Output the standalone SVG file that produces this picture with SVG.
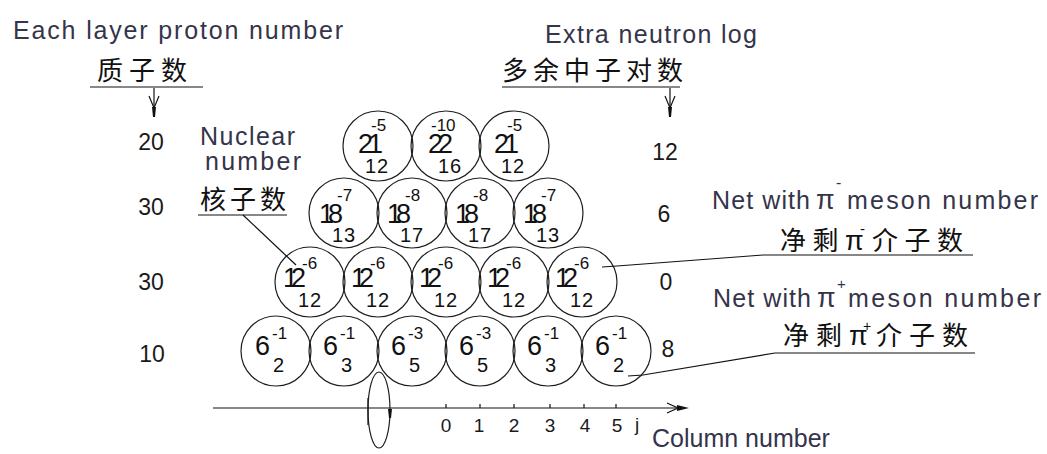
<svg xmlns="http://www.w3.org/2000/svg" xmlns:xlink="http://www.w3.org/1999/xlink" width="1047" height="454" viewBox="0 0 1047 454">
<style>
.bg{fill:#ffffff}
.c{fill:none;stroke:#1e1e1e;stroke-width:1.2}
.t{font-family:"Liberation Sans",Arial,sans-serif;fill:#111}
.m{font-size:27px}
.p{font-size:17px}
.b{font-size:20px}
.n{font-family:"Liberation Sans",Arial,sans-serif;font-size:23px;fill:#1a1a1a;text-anchor:middle}
.ax{font-family:"Liberation Sans",Arial,sans-serif;font-size:19px;fill:#1a1a1a;text-anchor:middle}
.en{font-family:"Liberation Sans",Arial,sans-serif;font-size:25px;fill:#34344a}
.cj{font-family:"Noto Sans CJK SC","Noto Sans CJK JP",sans-serif;font-size:26px;fill:#111}
.gr{font-family:"Liberation Sans",Arial,sans-serif}
.ln{fill:none;stroke:#111;stroke-width:1.2}
.fl{fill:#111;stroke:none}
</style>
<defs>
<g id="darr">
<line x1="0" y1="0" x2="0" y2="28" class="ln"/>
<polyline points="-5,8 0,20 5,8" class="ln"/>
<polygon points="-2,19 2,19 1,29 -1,29" class="fl"/>
</g>
</defs>
<rect x="0" y="0" width="1047" height="454" class="bg"/>

<g id="header-left">
<text class="en" x="13" y="39" textLength="330">Each layer proton number</text>
<text class="cj" x="97" y="80" font-size="27" letter-spacing="6">质子数</text>
</g>
<g id="header-right">
<text class="en" x="545" y="43" textLength="212">Extra neutron log</text>
<text class="cj" x="502" y="80" font-size="27" letter-spacing="5">多余中子对数</text>
</g>
<g id="label-nuclear">
<text class="en" x="200" y="145" font-size="24" textLength="95">Nuclear</text>
<text class="en" x="205" y="170" font-size="24" textLength="96">number</text>
<text class="cj" x="200" y="209" font-size="27" letter-spacing="4">核子数</text>
</g>
<g id="label-piminus">
<text class="en" x="712" y="209"><tspan textLength="98">Net with</tspan><tspan x="816" font-size="27">π</tspan><tspan x="836" y="188" font-size="16">-</tspan><tspan x="847" y="209" textLength="191">meson number</tspan></text>
<text class="cj" x="780" y="250"><tspan letter-spacing="6.5">净剩</tspan><tspan x="845" class="gr" font-size="27">π</tspan><tspan x="860" y="234" class="gr" font-size="15">-</tspan><tspan x="872" y="250" letter-spacing="6.5">介子数</tspan></text>
</g>
<g id="label-piplus">
<text class="en" x="713" y="307"><tspan textLength="98">Net with</tspan><tspan x="817" font-size="27">π</tspan><tspan x="837" y="289" font-size="15">+</tspan><tspan x="848" y="307" textLength="193">meson number</tspan></text>
<text class="cj" x="783" y="345"><tspan letter-spacing="7">净剩</tspan><tspan x="849" class="gr" font-size="27">π</tspan><tspan x="863" y="331" class="gr" font-size="14">+</tspan><tspan x="876" y="345" letter-spacing="7">介子数</tspan></text>
</g>

<g id="proton-column">
<text class="n" x="151" y="150">20</text>
<text class="n" x="151" y="215">30</text>
<text class="n" x="151" y="290">30</text>
<text class="n" x="152" y="362">10</text>
</g>
<g id="neutron-column">
<text class="n" x="665" y="160">12</text>
<text class="n" x="664" y="222">6</text>
<text class="n" x="666" y="290">0</text>
<text class="n" x="668" y="357">8</text>
</g>

<g id="row1">
<g id="n-r1c1"><circle class="c" cx="378" cy="146" r="35"/><text class="t"><tspan class="p" x="371" y="131">-5</tspan><tspan class="m" x="358" y="153" textLength="25">21</tspan><tspan class="b" x="365" y="173" textLength="23">12</tspan></text></g>
<g id="n-r1c2"><circle class="c" cx="446" cy="146" r="35"/><text class="t"><tspan class="p" x="431" y="131">-10</tspan><tspan class="m" x="428" y="153" textLength="25">22</tspan><tspan class="b" x="438" y="173" textLength="23">16</tspan></text></g>
<g id="n-r1c3"><circle class="c" cx="514" cy="146" r="35"/><text class="t"><tspan class="p" x="507" y="131">-5</tspan><tspan class="m" x="494" y="153" textLength="25">21</tspan><tspan class="b" x="501" y="173" textLength="23">12</tspan></text></g>
</g>
<g id="row2">
<g id="n-r2c1"><circle class="c" cx="344" cy="213" r="35"/><text class="t"><tspan class="p" x="337" y="201">-7</tspan><tspan class="m" x="319" y="223" textLength="24">18</tspan><tspan class="b" x="332" y="242" textLength="23">13</tspan></text></g>
<g id="n-r2c2"><circle class="c" cx="412" cy="213" r="35"/><text class="t"><tspan class="p" x="405" y="201">-8</tspan><tspan class="m" x="387" y="223" textLength="24">18</tspan><tspan class="b" x="400" y="242" textLength="23">17</tspan></text></g>
<g id="n-r2c3"><circle class="c" cx="480" cy="213" r="35"/><text class="t"><tspan class="p" x="473" y="201">-8</tspan><tspan class="m" x="455" y="223" textLength="24">18</tspan><tspan class="b" x="468" y="242" textLength="23">17</tspan></text></g>
<g id="n-r2c4"><circle class="c" cx="548" cy="213" r="35"/><text class="t"><tspan class="p" x="541" y="201">-7</tspan><tspan class="m" x="523" y="223" textLength="24">18</tspan><tspan class="b" x="536" y="242" textLength="23">13</tspan></text></g>
</g>
<g id="row3">
<g id="n-r3c1"><circle class="c" cx="310" cy="282" r="35"/><text class="t"><tspan class="p" x="302" y="269">-6</tspan><tspan class="m" x="283" y="287" textLength="23">12</tspan><tspan class="b" x="298" y="307" textLength="23">12</tspan></text></g>
<g id="n-r3c2"><circle class="c" cx="378" cy="282" r="35"/><text class="t"><tspan class="p" x="370" y="269">-6</tspan><tspan class="m" x="351" y="287" textLength="23">12</tspan><tspan class="b" x="366" y="307" textLength="23">12</tspan></text></g>
<g id="n-r3c3"><circle class="c" cx="446" cy="282" r="35"/><text class="t"><tspan class="p" x="438" y="269">-6</tspan><tspan class="m" x="419" y="287" textLength="23">12</tspan><tspan class="b" x="434" y="307" textLength="23">12</tspan></text></g>
<g id="n-r3c4"><circle class="c" cx="514" cy="282" r="35"/><text class="t"><tspan class="p" x="506" y="269">-6</tspan><tspan class="m" x="487" y="287" textLength="23">12</tspan><tspan class="b" x="502" y="307" textLength="23">12</tspan></text></g>
<g id="n-r3c5"><circle class="c" cx="582" cy="282" r="35"/><text class="t"><tspan class="p" x="574" y="269">-6</tspan><tspan class="m" x="555" y="287" textLength="23">12</tspan><tspan class="b" x="570" y="307" textLength="23">12</tspan></text></g>
</g>
<g id="row4">
<g id="n-r4c1"><circle class="c" cx="276" cy="351" r="35"/><text class="t"><tspan class="p" x="272" y="339">-1</tspan><tspan class="m" x="255" y="355">6</tspan><tspan class="b" x="273" y="372">2</tspan></text></g>
<g id="n-r4c2"><circle class="c" cx="344" cy="351" r="35"/><text class="t"><tspan class="p" x="340" y="339">-1</tspan><tspan class="m" x="323" y="355">6</tspan><tspan class="b" x="341" y="372">3</tspan></text></g>
<g id="n-r4c3"><circle class="c" cx="412" cy="351" r="35"/><text class="t"><tspan class="p" x="408" y="339">-3</tspan><tspan class="m" x="391" y="355">6</tspan><tspan class="b" x="409" y="372">5</tspan></text></g>
<g id="n-r4c4"><circle class="c" cx="480" cy="351" r="35"/><text class="t"><tspan class="p" x="476" y="339">-3</tspan><tspan class="m" x="459" y="355">6</tspan><tspan class="b" x="477" y="372">5</tspan></text></g>
<g id="n-r4c5"><circle class="c" cx="548" cy="351" r="35"/><text class="t"><tspan class="p" x="544" y="339">-1</tspan><tspan class="m" x="527" y="355">6</tspan><tspan class="b" x="545" y="372">3</tspan></text></g>
<g id="n-r4c6"><circle class="c" cx="616" cy="351" r="35"/><text class="t"><tspan class="p" x="612" y="339">-1</tspan><tspan class="m" x="595" y="355">6</tspan><tspan class="b" x="613" y="372">2</tspan></text></g>
</g>

<g id="axis">
<line class="ln" x1="213" y1="408" x2="684" y2="408"/>
<polyline class="ln" points="667,403 678,408 667,413"/>
<polygon class="fl" points="677,405 689,408 677,411"/>
<line class="ln" x1="446" y1="404" x2="446" y2="408"/>
<line class="ln" x1="480" y1="404" x2="480" y2="408"/>
<line class="ln" x1="514" y1="404" x2="514" y2="408"/>
<line class="ln" x1="550" y1="404" x2="550" y2="408"/>
<line class="ln" x1="584" y1="404" x2="584" y2="408"/>
<line class="ln" x1="616" y1="404" x2="616" y2="408"/>
<text class="ax" x="446" y="432">0</text>
<text class="ax" x="479" y="432">1</text>
<text class="ax" x="514" y="432">2</text>
<text class="ax" x="550" y="432">3</text>
<text class="ax" x="585" y="432">4</text>
<text class="ax" x="617" y="432">5</text>
<text class="ax" x="637" y="431">j</text>
<text class="en" x="652" y="447">Column number</text>
<line class="ln" x1="368" y1="398" x2="368" y2="425"/>
<ellipse class="c" cx="379" cy="410" rx="11" ry="38"/>
<polygon class="fl" points="388,409 392,409 391,418 389,418"/>
</g>

<g id="connectors">
<line class="ln" x1="90" y1="87" x2="203" y2="87"/>
<use xlink:href="#darr" x="154" y="88"/>
<line class="ln" x1="502" y1="87" x2="680" y2="87"/>
<use xlink:href="#darr" x="670" y="88"/>
<polyline class="ln" points="198,215 287,215"/>
<line class="ln" x1="243" y1="215" x2="296" y2="265"/>
<polyline class="ln" points="602,267 617,266 763,255 973,255"/>
<polyline class="ln" points="628,376 643,375 775,353 975,353"/>
</g>
</svg>
